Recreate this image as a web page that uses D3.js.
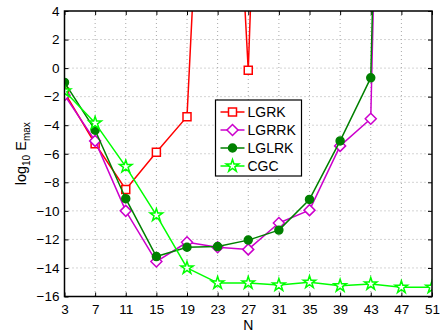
<!DOCTYPE html>
<html>
<head>
<meta charset="utf-8">
<script src="https://cdn.jsdelivr.net/npm/d3@7"></script>
<style>
  html, body { margin: 0; padding: 0; background: #fff; }
  svg { display: block; }
  text { font-family: "Liberation Sans", Arial, Helvetica, sans-serif; fill: #000; }
</style>
</head>
<body>
<svg id="chart" width="440" height="332"></svg>
<script>
// Order N of the scheme
const nValues = [3, 7, 11, 15, 19, 23, 27, 31, 35, 39, 43, 47, 51];
// log10 of the maximum error for each method
const lgrk  = [-1.7, -5.3, -8.5, -5.9, -3.4, 40, -0.15, 60];
const lgrrk = [-1.9, -5.1, -10.0, -13.55, -12.2, -12.55, -12.7, -10.85, -9.95, -5.45, -3.55, 90];
const lglrk = [-1.0, -4.35, -9.15, -13.2, -12.55, -12.5, -12.05, -11.35, -9.2, -5.1, -0.68, 85];
const cgc   = [-1.6, -3.85, -6.9, -10.3, -14.0, -15.05, -15.05, -15.2, -15.0, -15.25, -15.12, -15.35, -15.35];
const xTicks = [3, 7, 11, 15, 19, 23, 27, 31, 35, 39, 43, 47, 51];
const yTicks = [-16, -14, -12, -10, -8, -6, -4, -2, 0, 2, 4];

const series = [
  { name: "LGRK",  values: lgrk,  color: "#ff0000", marker: "square"  },
  { name: "LGRRK", values: lgrrk, color: "#cc00cc", marker: "diamond" },
  { name: "LGLRK", values: lglrk, color: "#008000", marker: "circle"  },
  { name: "CGC",   values: cgc,   color: "#00ff00", marker: "star"    }
];

const svg = d3.select("#chart");
const m = { left: 64.5, right: 432, top: 11, bottom: 296.5 };

const x = d3.scaleLinear().domain([3, 51]).range([m.left, m.right]);
const y = d3.scaleLinear().domain([-16, 4]).range([m.bottom, m.top]);

svg.append("defs").append("clipPath").attr("id", "plotClip")
  .append("rect")
  .attr("x", m.left).attr("y", m.top)
  .attr("width", m.right - m.left).attr("height", m.bottom - m.top);

// Dotted grid
const grid = svg.append("g");
grid.selectAll("line.gx").data(xTicks.slice(1, -1)).join("line")
  .attr("x1", d => x(d)).attr("x2", d => x(d))
  .attr("y1", m.top).attr("y2", m.bottom)
  .attr("stroke", "#a8a8a8").attr("stroke-width", 1).attr("stroke-dasharray", "1,3");
grid.selectAll("line.gy").data(yTicks.slice(1, -1)).join("line")
  .attr("x1", m.left).attr("x2", m.right)
  .attr("y1", d => y(d)).attr("y2", d => y(d))
  .attr("stroke", "#a8a8a8").attr("stroke-width", 1).attr("stroke-dasharray", "1,3");

// Axes with inward ticks on all four sides
const tickLen = 4;
const bottomAxis = d3.axisBottom(x).tickValues(xTicks).tickSize(-tickLen).tickPadding(8).tickFormat(d3.format("d"));
const leftAxis = d3.axisLeft(y).tickValues(yTicks).tickSize(-tickLen).tickPadding(5).tickFormat(d => d < 0 ? "\u2212" + Math.abs(d) : d);
const topAxis = d3.axisTop(x).tickValues(xTicks).tickSize(-tickLen).tickFormat("");
const rightAxis = d3.axisRight(y).tickValues(yTicks).tickSize(-tickLen).tickFormat("");

function styleAxis(g) {
  g.select(".domain").remove();
  g.selectAll(".tick line").attr("stroke", "#000").attr("stroke-width", 1);
  g.selectAll(".tick text").attr("font-size", 13.5).attr("font-family", "Liberation Sans, Arial, sans-serif");
}
svg.append("g").attr("transform", `translate(0,${m.bottom})`).call(bottomAxis).call(styleAxis);
svg.append("g").attr("transform", `translate(${m.left},0)`).call(leftAxis).call(styleAxis);
svg.append("g").attr("transform", `translate(0,${m.top})`).call(topAxis).call(styleAxis);
svg.append("g").attr("transform", `translate(${m.right},0)`).call(rightAxis).call(styleAxis);

// Marker shapes
function markerPath(type) {
  if (type === "square") return "M-4,-4H4V4H-4Z";
  if (type === "diamond") return "M0,-5.5L5.5,0L0,5.5L-5.5,0Z";
  if (type === "circle") return d3.symbol(d3.symbolCircle, 50)();
  return d3.symbol(d3.symbolStar, 48)();
}
function drawMarker(g, s) {
  const filled = s.marker === "circle";
  g.append("path")
    .attr("d", markerPath(s.marker))
    .attr("fill", filled ? s.color : "#fff")
    .attr("stroke", s.color)
    .attr("stroke-width", 1.5);
}

// Series lines and markers
const plot = svg.append("g").attr("clip-path", "url(#plotClip)");
const line = d3.line().x(d => x(d.n)).y(d => y(d.v));
series.forEach(s => {
  const pts = s.values.map((v, i) => ({ n: nValues[i], v }));
  plot.append("path").datum(pts)
    .attr("d", line)
    .attr("fill", "none")
    .attr("stroke", s.color)
    .attr("stroke-width", 1.5)
    .attr("stroke-linejoin", "round");
  pts.filter(p => p.v >= -16 && p.v <= 4).forEach(p => {
    const g = plot.append("g").attr("transform", `translate(${x(p.n)},${y(p.v)})`);
    drawMarker(g, s);
  });
});

// Frame
svg.append("rect")
  .attr("x", m.left).attr("y", m.top)
  .attr("width", m.right - m.left).attr("height", m.bottom - m.top)
  .attr("fill", "none").attr("stroke", "#000").attr("stroke-width", 1.5);

// Axis titles
svg.append("text")
  .attr("x", (m.left + m.right) / 2).attr("y", 330)
  .attr("text-anchor", "middle").attr("font-size", 14)
  .text("N");

const yl = svg.append("text")
  .attr("transform", `translate(26,${(m.top + m.bottom) / 2}) rotate(-90)`)
  .attr("text-anchor", "middle").attr("font-size", 14.5);
yl.append("tspan").text("log");
yl.append("tspan").attr("font-size", 10).attr("dy", 4).text("10");
yl.append("tspan").attr("dy", -4).text(" E");
yl.append("tspan").attr("font-size", 10).attr("dy", 4).text("max");

// Legend
const lg = svg.append("g");
lg.append("rect")
  .attr("x", 215.5).attr("y", 100).attr("width", 86).attr("height", 76)
  .attr("fill", "#fff").attr("stroke", "#000").attr("stroke-width", 1.2);
series.forEach((s, i) => {
  const cy = 112 + i * 18;
  lg.append("line")
    .attr("x1", 220.5).attr("x2", 244.5).attr("y1", cy).attr("y2", cy)
    .attr("stroke", s.color).attr("stroke-width", 1.5);
  drawMarker(lg.append("g").attr("transform", `translate(232.5,${cy})`), s);
  lg.append("text")
    .attr("x", 247.5).attr("y", cy + 5)
    .attr("font-size", 14)
    .text(s.name);
});
</script>
</body>
</html>
